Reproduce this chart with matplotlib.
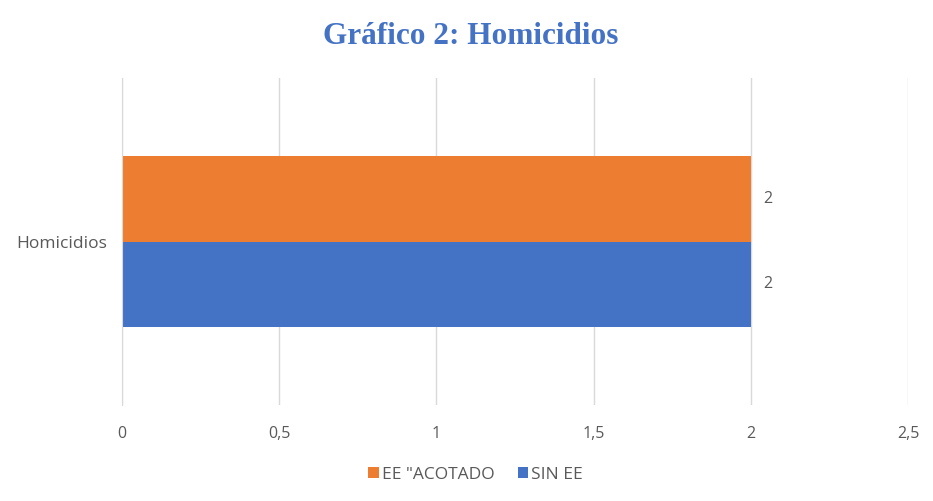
import matplotlib
matplotlib.use('Agg')
import matplotlib.pyplot as plt
import numpy as np

# data
categories = ['Homicidios']
series_names = ['SIN EE', 'EE "ACOTADO']
sin_ee = [2]
ee_acotado = [2]
xticks = [0, 0.5, 1, 1.5, 2, 2.5]
xtick_labels = ['0', '0,5', '1', '1,5', '2', '2,5']

blue = '#4472C4'
orange = '#ED7D31'
gray = '#595959'

plt.rcParams['font.family'] = ['Open Sans', 'DejaVu Sans']

fig = plt.figure(figsize=(9.33, 5.01), dpi=100)
ax = fig.add_axes([0.1308, 0.1916, 0.8424, 0.6527])

y = np.arange(len(categories))
h = 0.26
b1 = ax.barh(y - h / 2, sin_ee, height=h, color=blue, label=series_names[0], zorder=2)
b2 = ax.barh(y + h / 2, ee_acotado, height=h, color=orange, label=series_names[1], zorder=2)

for bars in (b1, b2):
    for r in bars:
        ax.text(r.get_width() + 0.04, r.get_y() + r.get_height() / 2, f'{r.get_width():g}',
                va='center', ha='left', fontsize=11.5, color=gray)

ax.set_xlim(0, 2.5)
ax.set_ylim(-0.5, 0.5)
ax.set_xticks(xticks)
ax.set_xticklabels(xtick_labels, fontsize=11.5, color=gray)
ax.set_yticks(y)
ax.set_yticklabels(categories, fontsize=12.5, color=gray)
ax.tick_params(axis='both', length=0)
ax.tick_params(axis='x', pad=15)
ax.tick_params(axis='y', pad=11)
ax.grid(axis='x', color='#D9D9D9', linewidth=1, zorder=0)
for s in ['top', 'right', 'bottom']:
    ax.spines[s].set_visible(False)
ax.spines['left'].set_color('#D9D9D9')

fig.text(0.504, 0.928, 'Gráfico 2: Homicidios', ha='center', va='center',
         fontsize=22.5, fontweight='bold', color=blue, family='Liberation Serif')

handles = [b2, b1]
fig.legend(handles, [series_names[1], series_names[0]], loc='center', ncol=2,
           bbox_to_anchor=(0.510, 0.052), frameon=False, fontsize=12.5,
           handlelength=0.6, handleheight=0.6, handletextpad=0.2, columnspacing=1.3,
           labelcolor=gray)

fig.savefig('out.png', dpi=100)
